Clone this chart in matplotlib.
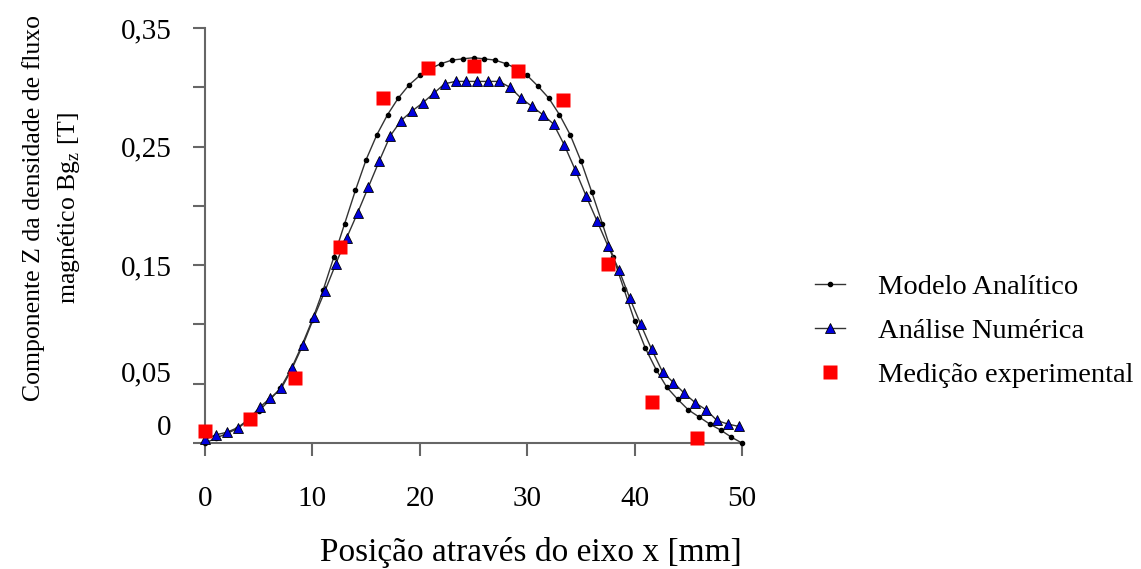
import matplotlib.pyplot as plt
import numpy as np
from matplotlib.lines import Line2D
from matplotlib.transforms import ScaledTranslation

plt.rcParams["font.family"] = ["Liberation Serif", "DejaVu Serif"]
plt.rcParams["mathtext.fontset"] = "custom"
plt.rcParams["mathtext.rm"] = "Liberation Serif"

# Modelo analítico: um ponto por mm ao longo do eixo x
x_analitico = np.arange(0, 51)
bz_analitico = [
    0.000, 0.004, 0.008, 0.012, 0.019, 0.027, 0.036, 0.046, 0.062, 0.082,
    0.104, 0.129, 0.157, 0.185, 0.213, 0.239, 0.260, 0.277, 0.291, 0.302,
    0.310, 0.316, 0.320, 0.323, 0.324, 0.325, 0.324, 0.323, 0.320, 0.316,
    0.310, 0.301, 0.291, 0.277, 0.260, 0.238, 0.212, 0.185, 0.157, 0.130,
    0.103, 0.080, 0.062, 0.047, 0.037, 0.028, 0.022, 0.016, 0.011, 0.005,
    0.000,
]

# Análise numérica: 50 amostras entre 0 e 49,7 mm
x_numerico = np.linspace(0, 49.7, 50)
bz_numerico = [
    0.003, 0.007, 0.009, 0.013, 0.020, 0.030, 0.038, 0.046, 0.063, 0.083,
    0.106, 0.128, 0.151, 0.173, 0.194, 0.216, 0.238, 0.259, 0.272, 0.280,
    0.287, 0.295, 0.303, 0.305, 0.305, 0.305, 0.305, 0.305, 0.300, 0.291,
    0.284, 0.277, 0.269, 0.251, 0.230, 0.208, 0.187, 0.166, 0.146, 0.122,
    0.100, 0.079, 0.060, 0.051, 0.042, 0.034, 0.028, 0.019, 0.016, 0.014,
]

# Medição experimental
x_medicao = [0.0, 4.2, 8.4, 12.6, 16.6, 20.8, 25.0, 29.1, 33.3, 37.5, 41.6, 45.8]
bz_medicao = [0.010, 0.020, 0.055, 0.165, 0.291, 0.316, 0.318, 0.314, 0.289,
              0.151, 0.035, 0.004]

xticks = [0, 10, 20, 30, 40, 50]
yticks = [0.0, 0.05, 0.10, 0.15, 0.20, 0.25, 0.30, 0.35]
ytick_labels = ["0", "0,05", "", "0,15", "", "0,25", "", "0,35"]

legend_labels = ["Modelo Analítico", "Análise Numérica", "Medição experimental"]

line_color = "#333333"
axis_color = "#666666"

fig = plt.figure(figsize=(11.41, 5.69), dpi=100)
ax = fig.add_axes([0.1797, 0.2214, 0.4706, 0.7293])

ax.plot(x_analitico, bz_analitico, color=line_color, lw=1.0, marker="o",
        ms=3, mfc="black", mec="black", clip_on=False, zorder=3)
ax.plot(x_numerico, bz_numerico, color=line_color, lw=1.0, marker="^",
        ms=7, mfc="#0000dd", mec="black", mew=0.6, clip_on=False, zorder=4)
ax.plot(x_medicao, bz_medicao, ls="none", marker="s", ms=10,
        mfc="#ff0000", mec="none", clip_on=False, zorder=5)

ax.set_xlim(0, 50)
ax.set_ylim(0, 0.35)
ax.set_xticks(xticks)
ax.set_yticks(yticks)
ax.set_yticklabels(ytick_labels)

for side in ["top", "right"]:
    ax.spines[side].set_visible(False)
for side in ["left", "bottom"]:
    ax.spines[side].set_color(axis_color)
    ax.spines[side].set_linewidth(1.5)

ax.tick_params(axis="y", direction="out", length=9, width=1.5,
               color=axis_color, labelsize=21, pad=15)
ax.tick_params(axis="x", direction="out", length=9, width=1.5,
               color=axis_color, labelsize=21, pad=22)

# os rótulos mais baixos ficam um pouco acima dos seus traços
labels = ax.get_yticklabels()
labels[0].set_transform(labels[0].get_transform()
                        + ScaledTranslation(0, 0.18, fig.dpi_scale_trans))
labels[1].set_transform(labels[1].get_transform()
                        + ScaledTranslation(0, 0.12, fig.dpi_scale_trans))

fig.text(531 / 1141, 1 - 552 / 569, "Posição através do eixo x [mm]",
         fontsize=24, ha="center", va="center")
fig.text(52 / 1141, 1 - 208 / 569,
         "Componente Z da densidade de fluxo\nmagnético Bg$_\\mathrm{z}$ [T]",
         fontsize=18.5, rotation=90, ha="center", va="center",
         multialignment="center", linespacing=1.6)

handles = [
    Line2D([], [], color=line_color, lw=1.0, marker="o", ms=3,
           mfc="black", mec="black"),
    Line2D([], [], color=line_color, lw=1.0, marker="^", ms=7,
           mfc="#0000dd", mec="black", mew=0.6),
    Line2D([], [], ls="none", marker="s", ms=10, mfc="#ff0000", mec="none"),
]
fig.legend(handles, legend_labels, loc="center left",
           bbox_to_anchor=(815 / 1141, 1 - 331 / 569), frameon=False,
           fontsize=20.5, handlelength=1.05, handletextpad=1.15,
           labelspacing=0.62, borderpad=0, borderaxespad=0)

fig.savefig("out.png", dpi=100)
